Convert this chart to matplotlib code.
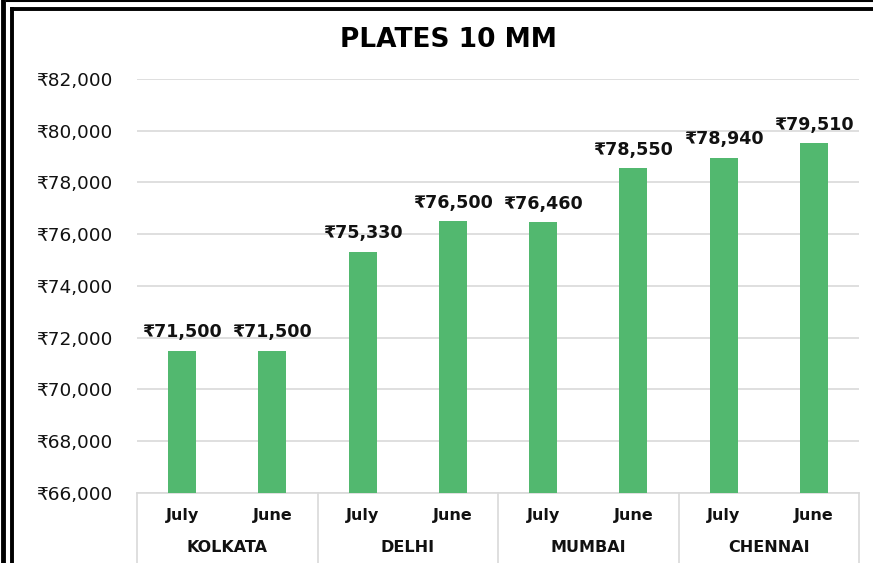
import numpy as np
from matplotlib import pyplot as plt
from matplotlib.lines import Line2D

cities = ["KOLKATA", "DELHI", "MUMBAI", "CHENNAI"]
months = ["July", "June"]
prices = [71500, 71500, 75330, 76500, 76460, 78550, 78940, 79510]

plt.rcParams['font.family'] = ['DejaVu Sans']

fig = plt.figure(figsize=(8.73, 5.63), dpi=100)
ax = fig.add_axes([137 / 873, 1 - 493 / 563, 722 / 873, 414 / 563])

x = np.arange(len(prices))
ax.bar(x, prices, width=0.31, color='#52b86f', zorder=3)
ax.set_xlim(-0.5, len(prices) - 0.5)
ax.set_ylim(66000, 82000)
ax.set_yticks(np.arange(66000, 82001, 2000))
ax.set_yticklabels(["₹{:,}".format(v) for v in range(66000, 82001, 2000)],
                   fontsize=13.3, color='#111111')
ax.tick_params(axis='y', length=0, pad=18)
ax.tick_params(axis='x', length=0)
ax.set_xticks([])
ax.grid(True, axis='y', color='#d9d9d9', linewidth=1.2, zorder=0)
for s in ['top', 'right', 'left']:
    ax.spines[s].set_visible(False)
ax.spines['bottom'].set_color('#d9d9d9')
ax.spines['bottom'].set_linewidth(1.2)

# data labels
for xi, v in zip(x, prices):
    ax.annotate("₹{:,}".format(v), (xi, v), xytext=(0, 7), textcoords='offset points',
                ha='center', va='bottom', fontsize=12.6, fontweight='bold', color='#111111')

# two-level category axis
tr = ax.get_xaxis_transform()
for xi in x:
    ax.text(xi, -0.055, months[xi % 2], transform=tr, ha='center', va='center',
            fontsize=11.5, fontweight='bold', color='#111111')
for i, c in enumerate(cities):
    ax.text(2 * i + 0.5, -0.132, c, transform=tr, ha='center', va='center',
            fontsize=11.5, fontweight='bold', color='#111111')
for b in np.arange(-0.5, len(prices), 2):
    ax.add_line(Line2D([b, b], [0, -0.2], transform=tr, color='#d9d9d9',
                       linewidth=1.2, clip_on=False))

fig.text(448 / 873, 1 - 40 / 563, "PLATES 10 MM", ha='center', va='center',
         fontsize=19, fontweight='bold', color='black')

# chart frame
fig.add_artist(Line2D([2.5 / 873, 2.5 / 873], [0, 1], transform=fig.transFigure,
                      color='black', linewidth=3.5))
fig.add_artist(Line2D([7 / 873, 1], [1 - 0.5 / 563, 1 - 0.5 / 563], transform=fig.transFigure,
                      color='black', linewidth=1.5))
fig.add_artist(Line2D([12 / 873, 12 / 873], [0, 1 - 8.5 / 563], transform=fig.transFigure,
                      color='black', linewidth=2.8, solid_capstyle='projecting'))
fig.add_artist(Line2D([12 / 873, 1], [1 - 8.5 / 563, 1 - 8.5 / 563], transform=fig.transFigure,
                      color='black', linewidth=2.8, solid_capstyle='projecting'))

fig.savefig("out.png", dpi=100)
